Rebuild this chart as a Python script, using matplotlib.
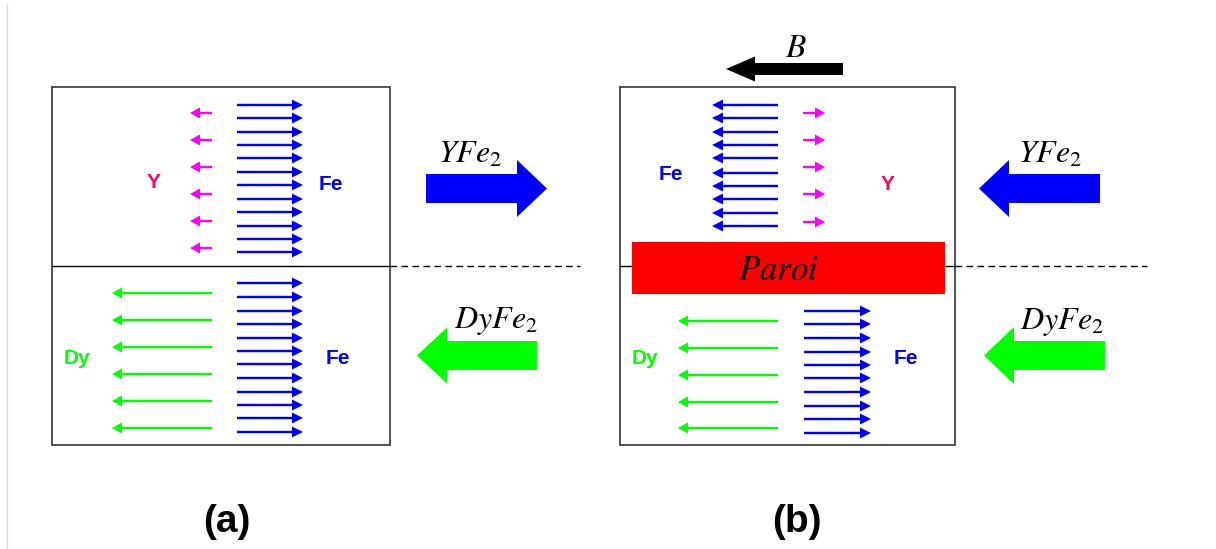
import matplotlib

matplotlib.use("Agg")
import matplotlib.pyplot as plt  # noqa: E402
from matplotlib.patches import Rectangle  # noqa: E402

plt.rcParams["mathtext.fontset"] = "stix"

# spin rows (y of each arrow, in picture pixels)
a_top_fe_y = [105, 118, 132, 145, 158, 172, 185, 199, 212, 226, 239, 252]
a_top_y_y = [113, 140, 167, 194, 221, 248]
a_bot_fe_y = [283, 297, 311, 324, 338, 351, 364, 378, 392, 405, 418, 432]
a_bot_dy_y = [293, 320, 347, 374, 401, 428]
b_top_fe_y = [105, 118, 132, 145, 158, 173, 186, 199, 213, 226]
b_top_y_y = [113, 140, 167, 194, 222]
b_bot_fe_y = [311, 324, 338, 352, 365, 378, 392, 406, 419, 433]
b_bot_dy_y = [321, 348, 375, 402, 428]

BLUE, GREEN, MAGENTA, RED, PINK = "#0000ff", "#00ff00", "#ff00ff", "#ff0000", "#ff0066"

fig = plt.figure(figsize=(12.16, 5.49), dpi=100)
ax = fig.add_axes([0, 0, 1, 1])
ax.set_xlim(0, 1216)
ax.set_ylim(549, 0)
ax.axis("off")


def spins(ys, x0, x1, color, hl=11, hw=11):
    for y in ys:
        ax.arrow(x0, y, x1 - x0, 0, width=2.4, head_width=hw, head_length=hl,
                 length_includes_head=True, color=color, lw=0)


def big_arrow(x0, x1, y, color, body=29, head=57, hl=30):
    ax.arrow(x0, y, x1 - x0, 0, width=body, head_width=head, head_length=hl,
             length_includes_head=True, color=color, lw=0)


def label(x, y, s, color):
    ax.text(x, y, s, color=color, fontsize=15, fontweight="bold",
            family="Liberation Sans", ha="center", va="center")


def math(x, y, s, size=23):
    ax.text(x, y, s, fontsize=size, ha="center", va="baseline", color="black",
            zorder=5)


# faint page edge
ax.plot([6.5, 6.5], [4, 549], color="#dddddd", lw=1)

# ---- panel (a) ----
ax.add_patch(Rectangle((52, 87), 338, 358, fill=False, ec="#222222", lw=1.1))
ax.plot([52, 390], [266, 266], color="black", lw=1)
ax.plot([390, 580], [266, 266], color="black", lw=1, ls=(0, (4.8, 3.1)))

spins(a_top_fe_y, 237, 303, BLUE)
spins(a_top_y_y, 212, 190, MAGENTA, hl=10, hw=11)
spins(a_bot_fe_y, 237, 303, BLUE)
spins(a_bot_dy_y, 212, 112, GREEN, hl=10, hw=11)
label(154, 183, "Y", PINK)
label(331, 184, "Fe", BLUE)
label(77, 359, "Dy", GREEN)
label(338, 359, "Fe", BLUE)

big_arrow(426, 547, 188.5, BLUE)
big_arrow(537, 417, 355.5, GREEN, head=56)
math(470, 163, r"$YFe_2$")
math(496, 328, r"$DyFe_2$")

ax.text(227, 522, "(a)", fontsize=28, fontweight="bold", family="Liberation Sans",
        ha="center", va="center")

# ---- panel (b) ----
ax.add_patch(Rectangle((620, 87), 335, 358, fill=False, ec="#222222", lw=1.1))
ax.plot([620, 955], [266, 266], color="black", lw=1)
ax.plot([955, 1147], [266, 266], color="black", lw=1, ls=(0, (4.8, 3.1)))
ax.add_patch(Rectangle((632, 242), 313, 52, color=RED, lw=0, zorder=4))
math(778, 280, r"$Paroi$", size=25)

spins(b_top_fe_y, 778, 712, BLUE)
spins(b_top_y_y, 803, 825, MAGENTA, hl=10, hw=11)
spins(b_bot_fe_y, 804, 871, BLUE)
spins(b_bot_dy_y, 778, 678, GREEN, hl=10, hw=11)
label(671, 174, "Fe", BLUE)
label(888, 185, "Y", PINK)
label(645, 358, "Dy", GREEN)
label(906, 358, "Fe", BLUE)

big_arrow(843, 726, 69, "black", body=12, head=25, hl=29)
math(796, 57, r"$B$", size=24)

big_arrow(1100, 979, 188.5, BLUE)
big_arrow(1105, 984, 355.5, GREEN)
math(1050, 163, r"$YFe_2$")
math(1062, 329, r"$DyFe_2$")

ax.text(797, 522, "(b)", fontsize=28, fontweight="bold", family="Liberation Sans",
        ha="center", va="center")

fig.savefig("out.png", dpi=100, facecolor="white")
